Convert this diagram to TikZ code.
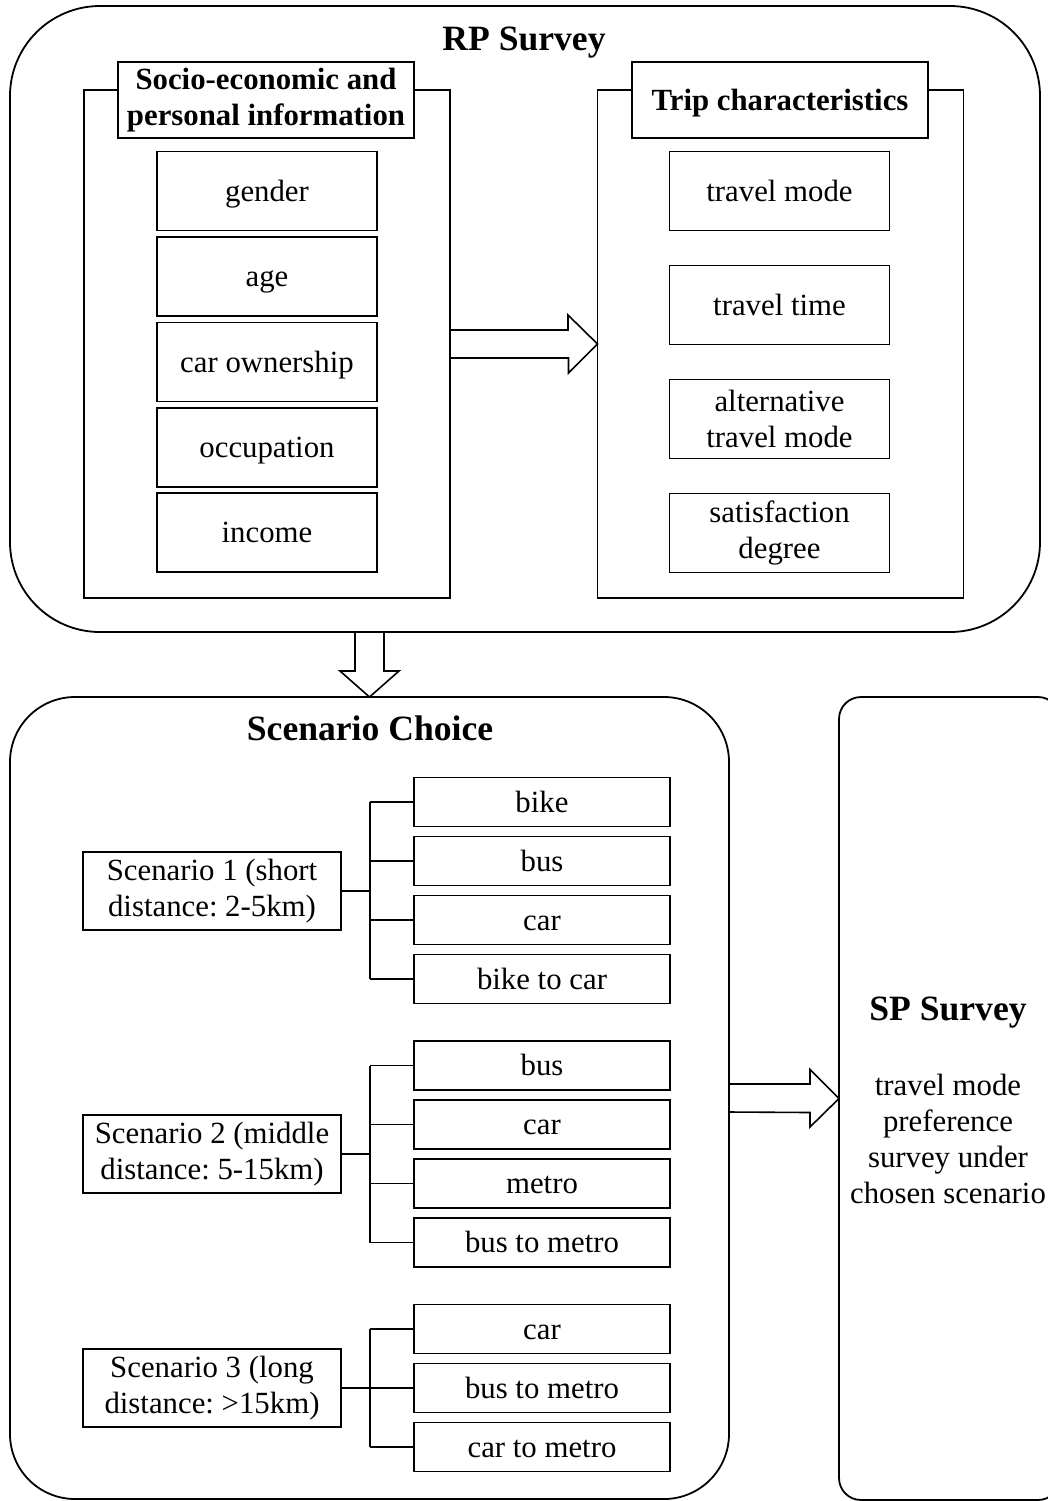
\documentclass[tikz,border=0pt]{standalone}
\usepackage{fontspec}
\setmainfont{Liberation Serif}
\usetikzlibrary{positioning,calc}
\frenchspacing
\newcommand{\linestrut}{\rule[-3.35pt]{0pt}{17pt}}

\begin{document}
\begin{tikzpicture}[
    x=0.5pt, y=-0.5pt,
    font=\fontsize{15.4pt}{18pt}\selectfont,
    line width=0.8pt,
    survey/.style={draw, line width=0.9pt, outer sep=0pt},
    panel/.style={draw, outer sep=0pt, minimum width=183pt, minimum height=254pt},
    boxtext/.style={execute at begin node=\linestrut, execute at end node=\linestrut},
    heading/.style={
        draw, fill=white, outer sep=0pt, inner sep=3pt,
        align=center,
        minimum width=148pt, minimum height=38pt,
        font=\fontsize{15.4pt}{18pt}\selectfont\bfseries
    },
    itembox/.style={draw, outer sep=0pt, inner ysep=1pt, align=center, minimum width=110pt, minimum height=39.5pt},
    item/.style={itembox, boxtext},
    twoline/.style={itembox},
    scen/.style={draw, outer sep=0pt, inner ysep=1pt, align=center, minimum width=129pt, minimum height=39pt},
    opt/.style={draw, outer sep=0pt, inner ysep=1pt, align=center, boxtext, minimum width=128pt, minimum height=24.5pt},
    title/.style={boxtext, font=\fontsize{17.8pt}{21pt}\selectfont\bfseries},
    fatarrow/.style={draw, line join=miter},
    branch/.style={draw}
]

\useasboundingbox (0,0) rectangle (1048,1501);

% RP survey
\node[survey, rounded corners=45pt, minimum width=515pt, minimum height=313pt] (rp) at (525,319) {};
\node[title] (rptitle) at (524,41) {RP Survey};

% Left panel
\node[panel] (socio) at (267,344) {};
\node[heading] (sociohead) at (266,100) {Socio-economic and\\personal information};
\node[item] (gender) at (267,191) {gender};
\node[item, below=3.2pt of gender]     (age)    {age};
\node[item, below=3.2pt of age]        (carown) {car ownership};
\node[item, below=3.2pt of carown]     (occup)  {occupation};
\node[item, below=3.2pt of occup]      (income) {income};

% Right panel
\node[panel] (trip) at (780.5,344) {};
\node[heading, boxtext] (triphead) at (780,100) {Trip characteristics};
\node[item] (mode) at (779.5,191) {travel mode};
\node[item, below=17.5pt of mode]       (ttime)  {travel time};
\node[twoline, below=17.5pt of ttime]   (altmode){alternative\\travel mode};
\node[twoline, below=17.5pt of altmode] (satis)  {satisfaction\\degree};

% Scenario choice
\node[survey, rounded corners=32.5pt, minimum width=359.5pt, minimum height=401pt] (scen) at (369.5,1098) {};
\node[title] (scentitle) at (370,730) {Scenario Choice};
\coordinate (trunk) at (370,0);

% Scenario 1
\node[scen] (sc1) at (212,891) {Scenario 1 (short\\distance: 2-5km)};
\node[opt] (bike1) at (542,802) {bike};
\node[opt, below=5pt of bike1] (bus1) {bus};
\node[opt, below=5pt of bus1]  (car1) {car};
\node[opt, below=5pt of car1]  (bc1)  {bike to car};

% Scenario 2
\node[scen] (sc2) at (212,1154) {Scenario 2 (middle\\distance: 5-15km)};
\node[opt] (bus2) at (542,1065.5) {bus};
\node[opt, below=5pt of bus2]   (car2)   {car};
\node[opt, below=5pt of car2]   (metro2) {metro};
\node[opt, below=5pt of metro2] (bm2)    {bus to metro};

% Scenario 3
\node[scen] (sc3) at (212,1388) {Scenario 3 (long\\distance: >15km)};
\node[opt] (car3) at (542,1329) {car};
\node[opt, below=5pt of car3] (bm3) {bus to metro};
\node[opt, below=5pt of bm3]  (cm3) {car to metro};

% Branches
\draw[branch] (sc1.east) -- (sc1.east -| trunk);
\draw[branch] (bike1.west -| trunk) -- (bc1.west -| trunk);
\draw[branch] (bike1.west -| trunk) -- (bike1.west);
\draw[branch] (bus1.west -| trunk)  -- (bus1.west);
\draw[branch] (car1.west -| trunk)  -- (car1.west);
\draw[branch] (bc1.west -| trunk)   -- (bc1.west);

\draw[branch] (sc2.east) -- (sc2.east -| trunk);
\draw[branch] (bus2.west -| trunk) -- (bm2.west -| trunk);
\draw[branch] (bus2.west -| trunk)   -- (bus2.west);
\draw[branch] (car2.west -| trunk)   -- (car2.west);
\draw[branch] (metro2.west -| trunk) -- (metro2.west);
\draw[branch] (bm2.west -| trunk)    -- (bm2.west);

\draw[branch] (sc3.east) -- (sc3.east -| trunk);
\draw[branch] (car3.west -| trunk) -- (cm3.west -| trunk);
\draw[branch] (car3.west -| trunk) -- (car3.west);
\draw[branch] (bm3.west -| trunk)  -- (bm3.west);
\draw[branch] (cm3.west -| trunk)  -- (cm3.west);

% SP survey
\node[survey, rounded corners=11pt, minimum width=110.5pt, minimum height=401.5pt] (sp) at (949.5,1098.5) {};
\node[title] (sptitle) at (948,1011) {SP Survey};
\node[align=center] (sptext) at (948,1139) {travel mode\\preference\\survey under\\chosen scenario};

% Block arrows
\draw[fatarrow] ($(socio.east)+(0,-14)$) -- ++(118,0) -- ++(0,-15) -- (trip.west)
    -- ++(-29,29) -- ++(0,-15) -- ($(socio.east)+(0,14)$);
\draw[fatarrow] ($(scen.north |- rp.south)+(-14.5,0)$) -- ++(0,39) -- ++(-15,0) -- (scen.north)
    -- ++(29.5,-26) -- ++(-15,0) -- ($(scen.north |- rp.south)+(14.5,0)$);
\draw[fatarrow] ($(scen.east)+(0,-14)$) -- ++(81,0) -- ++(0,-14.5) -- (sp.west)
    -- ++(-29,28.5) -- ++(0,-14.5) -- ($(scen.east)+(0,14)$);

\end{tikzpicture}
\end{document}
